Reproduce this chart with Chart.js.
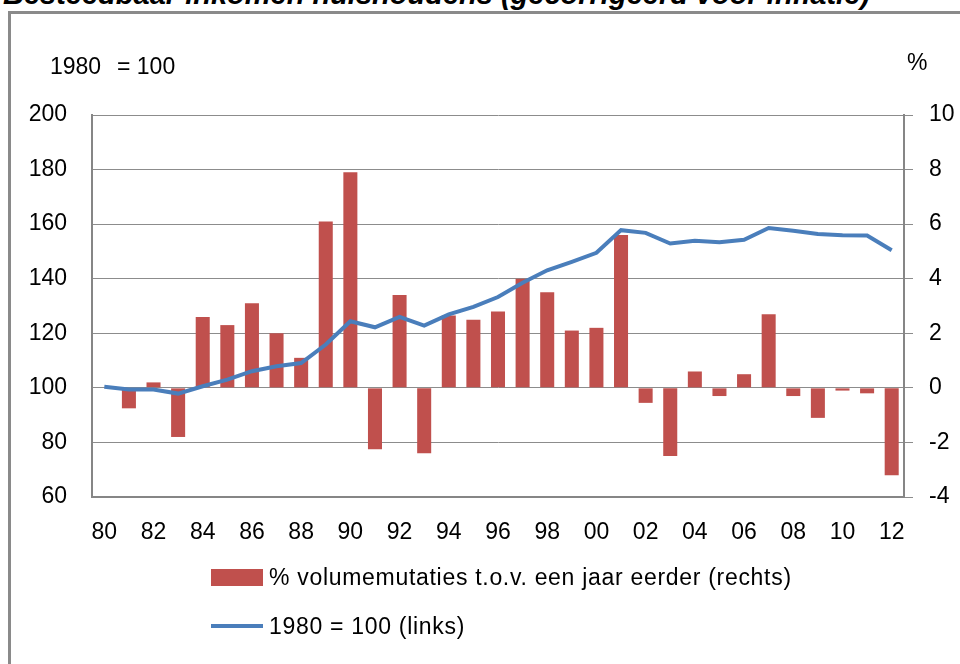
<!DOCTYPE html>
<html>
<head>
<meta charset="utf-8">
<script src="https://cdn.jsdelivr.net/npm/chart.js@4.4.0/dist/chart.umd.min.js"></script>
<style>
    body { margin: 0; background: #fff; font-family: "Liberation Sans", Arial, sans-serif; }
    #wrap { position: relative; width: 960px; height: 664px; overflow: hidden; }
    #frame { position: absolute; left: 8px; top: 11px; width: 970px; height: 670px; border: 3px solid #8a8a8a; box-sizing: border-box; }
    #title { position: absolute; left: 3px; top: -20px; font: italic bold 29px "Liberation Sans", Arial, sans-serif; line-height: 29px; white-space: nowrap; color: #000; }
    .note { position: absolute; font-size: 23px; color: #000; line-height: 23px; white-space: nowrap; }
    .leg { position: absolute; left: 211px; height: 30px; display: flex; align-items: center; font-size: 23px; letter-spacing: 0.7px; color: #000; white-space: nowrap; }
    .leg .sw { display: inline-block; width: 52px; margin-right: 6px; }
    canvas { position: absolute; left: 0; top: 0; }
</style>
</head>
<body>
<div id="wrap">
    <div id="title">Besteedbaar inkomen huishoudens (gecorrigeerd voor inflatie)</div>
    <div id="frame"></div>
    <canvas id="incomeChart" width="960" height="664"></canvas>
    <div class="note" style="left:50px; top:55px;">1980</div>
    <div class="note" style="left:117px; top:55px;">= 100</div>
    <div class="note" style="left:907px; top:51px;">%</div>
    <div id="legend"></div>
</div>
<script>
const years = ['80','81','82','83','84','85','86','87','88','89','90','91','92','93','94','95','96',
    '97','98','99','00','01','02','03','04','05','06','07','08','09','10','11','12'];

// % volumemutaties t.o.v. een jaar eerder (rechter as)
const volumeChange = [0, -0.75, 0.2, -1.8, 2.6, 2.3, 3.1, 2.0, 1.1, 6.1, 7.9, -2.25, 3.4, -2.4, 2.65, 2.5, 2.8,
    4.0, 3.5, 2.1, 2.2, 5.6, -0.55, -2.5, 0.6, -0.3, 0.5, 2.7, -0.3, -1.1, -0.1, -0.2, -3.2];

// index 1980 = 100 (linker as)
const indexLevel = [100.4, 99.4, 99.4, 97.9, 100.6, 103.0, 106.1, 107.9, 109.1, 115.9, 124.4, 122.2, 126.0,
    122.8, 126.9, 129.7, 133.3, 138.5, 143.1, 146.2, 149.5, 157.8, 156.8, 152.9, 153.9, 153.4, 154.3,
    158.6, 157.6, 156.4, 155.9, 155.8, 150.4];

const leftTicks = [60, 80, 100, 120, 140, 160, 180, 200];
const rightTicks = [-4, -2, 0, 2, 4, 6, 8, 10];

const gridGray = '#8c8c8c';
const axisGray = '#868686';
const tickFont = { family: '"Liberation Sans", Arial, sans-serif', size: 23 };

const ctx = document.getElementById('incomeChart').getContext('2d');
const chart = new Chart(ctx, {
    type: 'bar',
    data: {
        labels: years,
        datasets: [{
            type: 'bar',
            label: '% volumemutaties t.o.v. een jaar eerder (rechts)',
            data: volumeChange,
            yAxisID: 'yRight',
            backgroundColor: '#C0504D',
            barPercentage: 0.57,
            categoryPercentage: 1.0,
            order: 2
        }, {
            type: 'line',
            label: '1980 = 100 (links)',
            data: indexLevel,
            yAxisID: 'yLeft',
            borderColor: '#4A7EBB',
            borderWidth: 4,
            pointRadius: 0,
            tension: 0,
            order: 1
        }]
    },
    options: {
        responsive: false,
        animation: false,
        layout: { padding: { left: 0, right: 0, top: 115, bottom: 107 } },
        plugins: {
            legend: { display: false },
            tooltip: { enabled: false }
        },
        scales: {
            x: {
                offset: true,
                grid: { display: false },
                border: { color: axisGray, width: 2 },
                ticks: {
                    color: '#000',
                    font: tickFont,
                    autoSkip: false,
                    maxRotation: 0,
                    padding: 14,
                    callback: function(val, i) { return i % 2 === 0 ? years[i] : ''; }
                },
                afterFit: function(scale) { scale.height = 60; }
            },
            yLeft: {
                position: 'left',
                min: 60,
                max: 200,
                afterBuildTicks: function(scale) { scale.ticks = leftTicks.map(v => ({ value: v })); },
                grid: { color: gridGray, lineWidth: 1, drawTicks: false },
                border: { color: axisGray, width: 2 },
                ticks: { color: '#000', font: tickFont, padding: 25 },
                afterFit: function(scale) { scale.width = 92; }
            },
            yRight: {
                position: 'right',
                min: -4,
                max: 10,
                afterBuildTicks: function(scale) { scale.ticks = rightTicks.map(v => ({ value: v })); },
                grid: { drawOnChartArea: false, color: gridGray, tickLength: 9 },
                border: { color: axisGray, width: 2 },
                ticks: { color: '#000', font: tickFont, padding: 16 },
                afterFit: function(scale) { scale.width = 56; }
            }
        }
    }
});

// HTML legend, one item per line as in the original
const legendTops = [562, 611];
const legendBox = document.getElementById('legend');
chart.data.datasets.forEach(function(ds, i) {
    const item = document.createElement('div');
    item.className = 'leg';
    item.style.top = legendTops[i] + 'px';
    const sw = document.createElement('span');
    sw.className = 'sw';
    if (ds.type === 'bar') {
        sw.style.height = '17px';
        sw.style.background = ds.backgroundColor;
    } else {
        sw.style.height = '4px';
        sw.style.background = ds.borderColor;
    }
    item.appendChild(sw);
    item.appendChild(document.createTextNode(ds.label));
    legendBox.appendChild(item);
});
</script>
</body>
</html>
